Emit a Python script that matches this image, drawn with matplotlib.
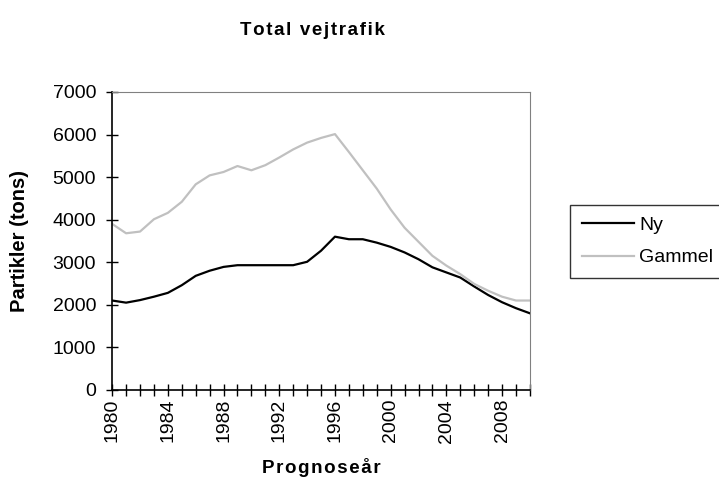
import matplotlib.pyplot as plt
from matplotlib.ticker import MultipleLocator

plt.rcParams['font.family'] = ['Liberation Sans', 'DejaVu Sans']

years = list(range(1980, 2011))
ny = [2100, 2050, 2110, 2190, 2280, 2460, 2680, 2800, 2890, 2930,
      2930, 2930, 2930, 2930, 3010, 3270, 3600, 3540, 3540, 3460,
      3360, 3230, 3070, 2880, 2760, 2640, 2430, 2230, 2060, 1920, 1800]
gammel = [3900, 3680, 3720, 4010, 4160, 4420, 4830, 5040, 5120, 5260,
          5160, 5280, 5460, 5650, 5810, 5920, 6010, 5590, 5160, 4730,
          4240, 3810, 3480, 3150, 2920, 2720, 2490, 2330, 2190, 2100, 2100]
year_labels = [1980, 1984, 1988, 1992, 1996, 2000, 2004, 2008]

HS = '\u200a'  # hair space, gives the wide letter spacing of the original


def spaced(s):
    return HS.join(s)


fig = plt.figure(figsize=(7.19, 4.79), dpi=100)
ax = fig.add_axes([0.156, 0.186, 0.581, 0.622])

ax.plot(years, ny, color='black', lw=1.6, label='Ny')
ax.plot(years, gammel, color='#c0c0c0', lw=1.6, label='Gammel')

ax.set_xlim(1980, 2010)
ax.set_ylim(0, 7000)
ax.yaxis.set_major_locator(MultipleLocator(1000))
ax.set_xticks(years, minor=True)
ax.set_xticks(year_labels)
ax.set_xticklabels([str(y) for y in year_labels], rotation=90)
ax.tick_params(axis='both', which='both', direction='inout', length=9,
               width=1, labelsize=14, color='black')
ax.tick_params(axis='x', pad=2)
ax.tick_params(axis='y', pad=7)

ax.spines['left'].set_color('black')
ax.spines['bottom'].set_color('black')
ax.spines['left'].set_linewidth(1.2)
ax.spines['bottom'].set_linewidth(1.2)
ax.spines['top'].set_color('#808080')
ax.spines['right'].set_color('#808080')

ax.set_ylabel('Partikler (tons)', fontsize=14.5, fontweight='bold', labelpad=17)
ax.set_xlabel(spaced('Prognoseår'), fontsize=13.5, fontweight='bold', labelpad=11)
fig.text(0.434, 0.937, spaced('Total vejtrafik'), fontsize=13.5,
         fontweight='bold', ha='center', va='center')

leg = fig.legend(loc='upper left', bbox_to_anchor=(0.793, 0.572), fontsize=14,
                 frameon=True, fancybox=False, edgecolor='black',
                 handlelength=2.7, handletextpad=0.25, borderpad=0.6,
                 labelspacing=0.75, borderaxespad=0)
leg.get_frame().set_linewidth(1)

fig.savefig('out.png', dpi=100)
